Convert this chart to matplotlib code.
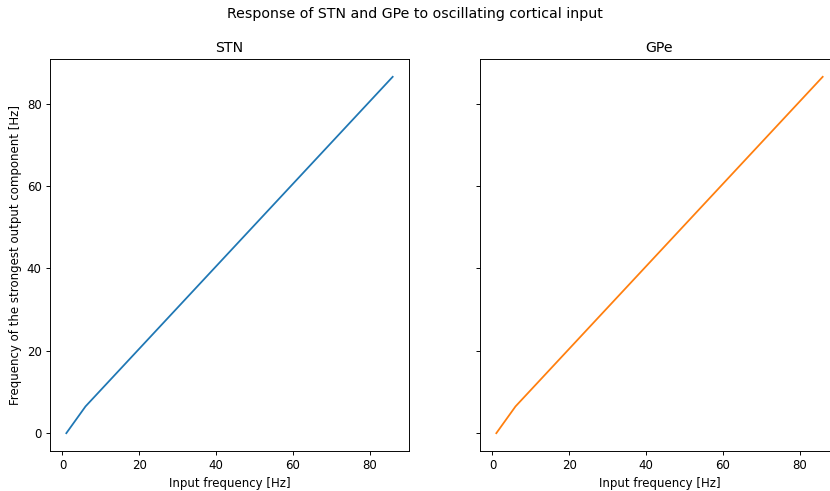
import numpy as np
import matplotlib
matplotlib.use("Agg")
import matplotlib.pyplot as plt

# input frequencies [Hz] and strongest output component [Hz]
input_freq = [1, 6, 11, 16, 21, 26, 31, 36, 41, 46, 51, 56, 61, 66, 71, 76, 81, 86]
stn_out = [0, 6.5, 11.5, 16.5, 21.5, 26.5, 31.5, 36.5, 41.5, 46.5, 51.5, 56.5, 61.5, 66.5, 71.5, 76.5, 81.5, 86.5]
gpe_out = [0, 6.5, 11.5, 16.5, 21.5, 26.5, 31.5, 36.5, 41.5, 46.5, 51.5, 56.5, 61.5, 66.5, 71.5, 76.5, 81.5, 86.5]

W, H = 830, 491
DPI = 85
fig = plt.figure(figsize=(W / DPI, H / DPI), dpi=DPI)
ax1 = fig.add_axes([50 / W, 40 / H, 359 / W, 392 / H])
ax2 = fig.add_axes([480 / W, 40 / H, 359 / W, 392 / H], sharey=ax1)

ax1.plot(input_freq, stn_out, color="C0")
ax1.set_title("STN")
ax1.set_xlabel("Input frequency [Hz]")
ax1.set_ylabel("Frequency of the strongest output component [Hz]")

ax2.plot(input_freq, gpe_out, color="C1")
ax2.set_title("GPe")
ax2.set_xlabel("Input frequency [Hz]")
plt.setp(ax2.get_yticklabels(), visible=False)

fig.suptitle("Response of STN and GPe to oscillating cortical input", y=0.985)

fig.savefig("out.png", dpi=DPI)
